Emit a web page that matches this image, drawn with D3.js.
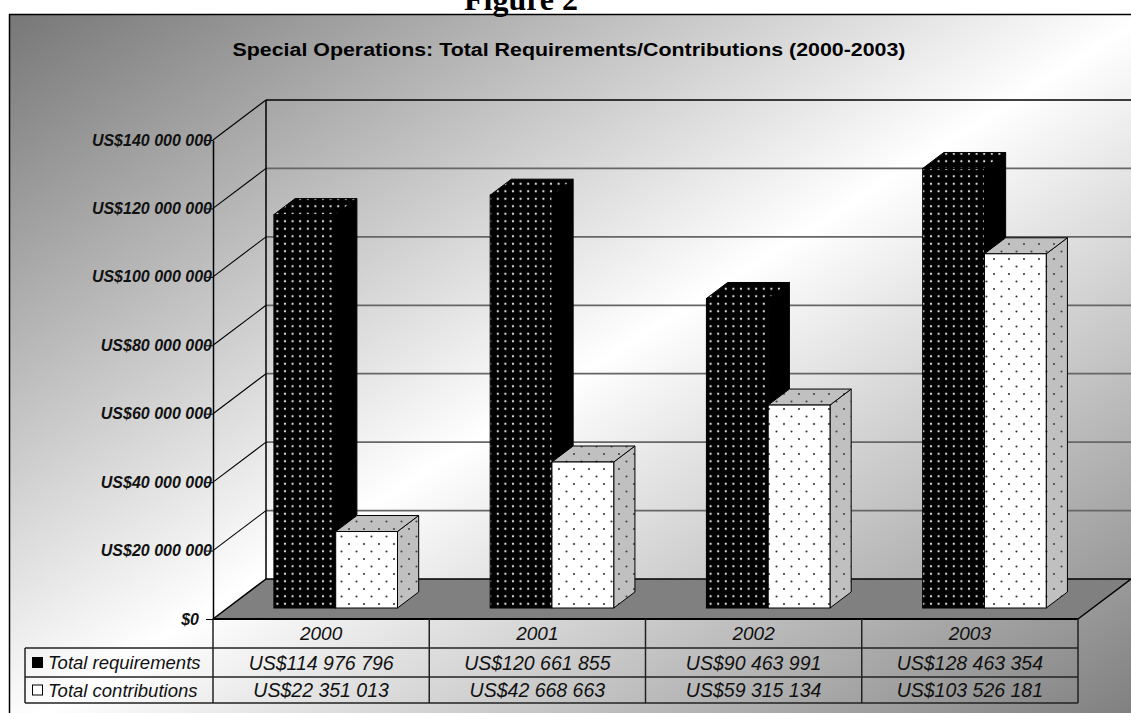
<!DOCTYPE html>
<html>
<head>
<meta charset="utf-8">
<script src="https://cdn.jsdelivr.net/npm/d3@7/dist/d3.min.js"></script>
<style>
  body { margin: 0; background: #fff; }
  svg { display: block; }
  text { font-family: Arial, "Liberation Sans", sans-serif; }
</style>
</head>
<body>
<svg id="chart"></svg>
<script>
// data
const years = ["2000", "2001", "2002", "2003"];
const seriesNames = ["Total requirements", "Total contributions"];
const requirements = [114976796, 120661855, 90463991, 128463354];
const contributions = [22351013, 42668663, 59315134, 103526181];
const yTicks = [0, 20e6, 40e6, 60e6, 80e6, 100e6, 120e6, 140e6];
const titleText = "Special Operations: Total Requirements/Contributions (2000-2003)";
const figureText = "Figure 2";

const width = 1131, height = 713;
const plot = { left: 213, right: 1078, bottom: 619, top: 140 };
const depth = { dx: 53, dy: -40 };
const barZ = [0.275, 0.675]; // bar front / back depth fraction

const svg = d3.select("#chart").attr("width", width).attr("height", height);
const defs = svg.append("defs");

// background gradient (gray -> white -> gray, diagonal)
const grad = defs.append("linearGradient").attr("id", "bg")
  .attr("x1", 0).attr("y1", 0).attr("x2", 1).attr("y2", 1);
grad.append("stop").attr("offset", 0).attr("stop-color", "#777");
grad.append("stop").attr("offset", 0.5).attr("stop-color", "#fff");
grad.append("stop").attr("offset", 1).attr("stop-color", "#7a7a7a");

// dot patterns
function dotPattern(id, w, h, bg, dot, pts, r) {
  const p = defs.append("pattern").attr("id", id)
    .attr("patternUnits", "userSpaceOnUse").attr("width", w).attr("height", h);
  p.append("rect").attr("width", w).attr("height", h).attr("fill", bg);
  pts.forEach(([cx, cy]) => p.append("circle").attr("cx", cx).attr("cy", cy).attr("r", r).attr("fill", dot));
}
dotPattern("blackDots", 7.6, 7.5, "#000", "#d8d8d8", [[3.8, 3.7]], 1.15);
dotPattern("whiteDots", 15, 15, "#fff", "#333", [[4, 4], [11.5, 11.5]], 1.05);
dotPattern("greyDots", 15, 15, "#c0c0c0", "#444", [[4, 4], [11.5, 11.5]], 1.05);

// outer frame
svg.append("rect")
  .attr("x", 9.5).attr("y", 14.5)
  .attr("width", 1140).attr("height", 720)
  .attr("fill", "url(#bg)")
  .attr("stroke", "#000").attr("stroke-width", 1.5);

svg.append("text")
  .attr("x", 521).attr("y", 10)
  .attr("text-anchor", "middle")
  .style("font-family", "'Times New Roman', 'Liberation Serif', serif")
  .attr("font-size", 32).attr("font-weight", "bold")
  .text(figureText);

svg.append("text")
  .attr("x", 569).attr("y", 56)
  .attr("text-anchor", "middle")
  .attr("font-size", 18).attr("font-weight", "bold")
  .attr("textLength", 673).attr("lengthAdjust", "spacingAndGlyphs")
  .text(titleText);

// scales
const xScale = d3.scaleBand().domain(years).range([plot.left, plot.right]).padding(0);
const sScale = d3.scaleBand().domain(seriesNames).range([0, xScale.bandwidth()])
  .paddingInner(0).paddingOuter(0.75);
const yScale = d3.scaleLinear().domain([0, 140e6]).range([plot.bottom, plot.top]);

const proj = (x, v, z) => [x + z * depth.dx, yScale(v) + z * depth.dy];

// walls + gridlines
const walls = svg.append("g");
yTicks.filter(v => v > 0).forEach(v => {
  const [bx, by] = proj(plot.left, v, 1);
  walls.append("line")
    .attr("x1", bx).attr("y1", by).attr("x2", proj(plot.right, v, 1)[0]).attr("y2", by)
    .attr("stroke", v === 140e6 ? "#000" : "#666")
    .attr("stroke-width", v === 140e6 ? 1.5 : 1.7);
  walls.append("line")
    .attr("x1", plot.left).attr("y1", yScale(v)).attr("x2", bx).attr("y2", by)
    .attr("stroke", "#000").attr("stroke-width", 1.1);
});
walls.append("line")
  .attr("x1", proj(plot.left, 0, 1)[0]).attr("x2", proj(plot.left, 0, 1)[0])
  .attr("y1", proj(plot.left, 140e6, 1)[1]).attr("y2", proj(plot.left, 0, 1)[1])
  .attr("stroke", "#000").attr("stroke-width", 1.5);

// floor
const floorPts = [proj(plot.left, 0, 0), proj(plot.left, 0, 1), proj(plot.right, 0, 1), proj(plot.right, 0, 0)];
svg.append("polygon")
  .attr("points", floorPts.map(p => p.join(",")).join(" "))
  .attr("fill", "#808080").attr("stroke", "#000").attr("stroke-width", 1.5)
  .attr("stroke-linejoin", "round");

// bars
const barData = years.map((y, i) => [
  { year: y, series: seriesNames[0], value: requirements[i], front: "url(#blackDots)", top: "url(#blackDots)", side: "#000" },
  { year: y, series: seriesNames[1], value: contributions[i], front: "url(#whiteDots)", top: "url(#greyDots)", side: "url(#greyDots)" }
]).flat();

const bars = svg.append("g").selectAll("g").data(barData).join("g");
const pts = a => a.map(p => p.join(",")).join(" ");
bars.each(function(d) {
  const g = d3.select(this);
  const xa = xScale(d.year) + sScale(d.series);
  const xb = xa + sScale.bandwidth();
  const [zf, zb] = barZ;
  g.append("polygon")
    .attr("points", pts([proj(xb, d.value, zf), proj(xb, d.value, zb), proj(xb, 0, zb), proj(xb, 0, zf)]))
    .attr("fill", d.side).attr("stroke", "#000").attr("stroke-width", 1);
  g.append("polygon")
    .attr("points", pts([proj(xa, d.value, zf), proj(xb, d.value, zf), proj(xb, d.value, zb), proj(xa, d.value, zb)]))
    .attr("fill", d.top).attr("stroke", "#000").attr("stroke-width", 1);
  const [fx, fy] = proj(xa, d.value, zf);
  const fb = proj(xa, 0, zf)[1];
  g.append("rect")
    .attr("x", fx).attr("y", fy).attr("width", xb - xa).attr("height", fb - fy)
    .attr("fill", d.front).attr("stroke", "#000").attr("stroke-width", 1);
});

// y axis on front plane
const fmt = d3.formatLocale({ thousands: " ", grouping: [3], currency: ["US$", ""], decimal: "." }).format("$,");
const yAxis = svg.append("g")
  .attr("transform", `translate(${plot.left},0)`)
  .call(d3.axisLeft(yScale).tickValues(yTicks).tickSize(7).tickSizeOuter(0)
    .tickFormat(v => v === 0 ? "$0" : fmt(v)));
yAxis.select(".domain").attr("stroke", "#000").attr("stroke-width", 1.5);
yAxis.selectAll(".tick line").attr("stroke", "#000");
yAxis.selectAll(".tick text")
  .attr("x", v => v === 0 ? -14 : -1)
  .attr("font-size", 16).attr("font-weight", "bold").attr("font-style", "italic")
  .attr("fill", "#111")
  .style("font-family", "Arial, 'Liberation Sans', sans-serif");

// data table
const table = svg.append("g");
const rowY = [619, 648, 677, 703];
const tableLeft = 25;
const cols = years.map(y => xScale(y)).concat([plot.right]);
const lineStyle = sel => sel.attr("stroke", "#222").attr("stroke-width", 1.5);
[648, 677, 703].forEach(y => table.append("line")
  .attr("x1", tableLeft).attr("x2", plot.right).attr("y1", y).attr("y2", y).call(lineStyle));
table.append("line").attr("x1", plot.left).attr("x2", plot.right).attr("y1", 619).attr("y2", 619)
  .attr("stroke", "#000").attr("stroke-width", 2.2);
cols.forEach(x => table.append("line")
  .attr("x1", x).attr("x2", x).attr("y1", 619).attr("y2", 703).call(lineStyle));
table.append("line").attr("x1", tableLeft).attr("x2", tableLeft).attr("y1", 648).attr("y2", 703).call(lineStyle);

const cellText = (x, y, txt, anchor, size) => table.append("text")
  .attr("x", x).attr("y", y).attr("text-anchor", anchor)
  .attr("font-size", size).attr("font-style", "italic").attr("fill", "#111")
  .attr("dominant-baseline", "central")
  .text(txt);

years.forEach((y, i) => {
  const cx = xScale(y) + xScale.bandwidth() / 2;
  cellText(cx, (rowY[0] + rowY[1]) / 2, y, "middle", 19);
  cellText(cx, (rowY[1] + rowY[2]) / 2, fmt(requirements[i]), "middle", 19.5);
  cellText(cx, (rowY[2] + rowY[3]) / 2, fmt(contributions[i]), "middle", 19.5);
});
seriesNames.forEach((s, i) => {
  const cy = (rowY[i + 1] + rowY[i + 2]) / 2;
  table.append("rect")
    .attr("x", 32.5).attr("y", cy - 5).attr("width", 10).attr("height", 10)
    .attr("fill", i === 0 ? "#000" : "#fff").attr("stroke", "#000").attr("stroke-width", 1);
  cellText(48, cy, s, "start", 18.5);
});
</script>
</body>
</html>
